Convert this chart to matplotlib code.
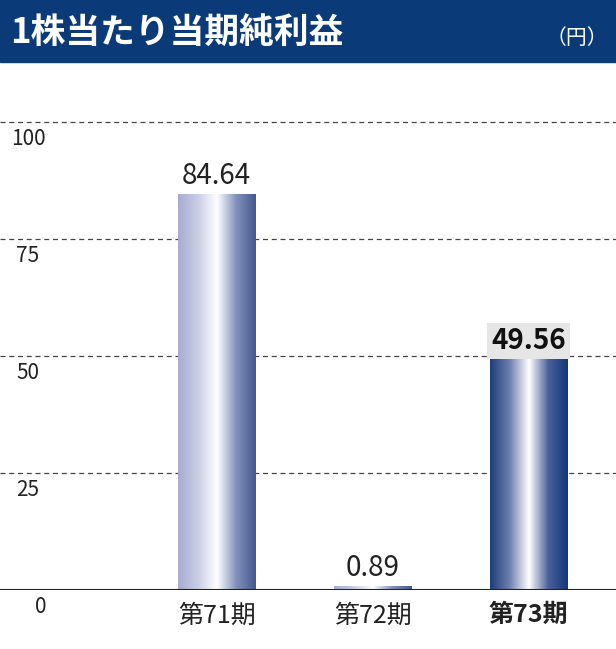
import matplotlib
matplotlib.use("Agg")
import matplotlib.pyplot as plt
import numpy as np
from matplotlib.colors import LinearSegmentedColormap
from matplotlib.patches import Rectangle

plt.rcParams['font.family'] = ['Noto Sans CJK JP', 'DejaVu Sans']

categories = ['第71期', '第72期', '第73期']
values = [84.64, 0.89, 49.56]
labels = ['84.64', '0.89', '49.56']
yticks = [0, 25, 50, 75, 100]

W, H = 616, 649
fig = plt.figure(figsize=(W/100, H/100), dpi=100)
fig.patches.append(Rectangle((0, 1-62/H), 1, 62/H, transform=fig.transFigure, color='#0b3a78', zorder=0))
fig.text(10/W, 1-32/H, '1株当たり当期純利益', color='white', fontsize=25, fontweight='bold', va='center')
fig.text(608/W, 1-38/H, '（円）', color='white', fontsize=15, va='center', ha='right')

ax = fig.add_axes([0, 59/H, 1, (590-59)/H])
ax.set_xlim(-1.39, 2.56)
ax.set_ylim(0, (590-59)/4.68)
for s in ax.spines.values():
    s.set_visible(False)
ax.set_xticks([]); ax.set_yticks([])

for t in yticks[1:]:
    ax.axhline(t, color='#444444', lw=0.9, ls=(0, (4, 3)), zorder=1)
ax.axhline(0, color='#222222', lw=1.5, zorder=5)
for t in yticks:
    ax.annotate(str(t), (-1.39 + 28/156 + (0.08 if t == 0 else 0), t), xytext=(0, -4), textcoords='offset points',
                ha='center', va='top', fontsize=15, color='#222222', annotation_clip=False)

cm1 = LinearSegmentedColormap.from_list('b1', ['#a6acd0', '#c9cde4', '#ffffff', '#8290bb', '#44598f'])
cm3 = LinearSegmentedColormap.from_list('b3', ['#1d3d7a', '#6d7fae', '#ffffff', '#4a609a', '#13387a'])
grad = np.linspace(0, 1, 256).reshape(1, -1)
bw = 0.5
for i, v in enumerate(values):
    cm = cm3 if i == 2 else cm1
    bars = ax.bar(i, v, width=bw, color='none', zorder=3)
    im = ax.imshow(grad, cmap=cm, aspect='auto', extent=(i-bw/2, i+bw/2, 0, v), zorder=2)
    im.set_clip_path(bars[0])
    if i == 2:
        ax.annotate(labels[i], (i, v), xytext=(0, 2), textcoords='offset points', ha='center', va='bottom',
                    fontsize=20, fontweight='bold', color='#111111',
                    bbox=dict(boxstyle='square,pad=0.15', fc='#e6e6e6', ec='none'))
    else:
        ax.annotate(labels[i], (i, v), xytext=(0, 2), textcoords='offset points', ha='center', va='bottom',
                    fontsize=20, color='#222222')
    ax.annotate(categories[i], (i, 0), xytext=(0, -9), textcoords='offset points', ha='center', va='top',
                fontsize=18, color='#222222', fontweight='bold' if i == 2 else 'normal', annotation_clip=False)

fig.savefig('out.png', dpi=100)
